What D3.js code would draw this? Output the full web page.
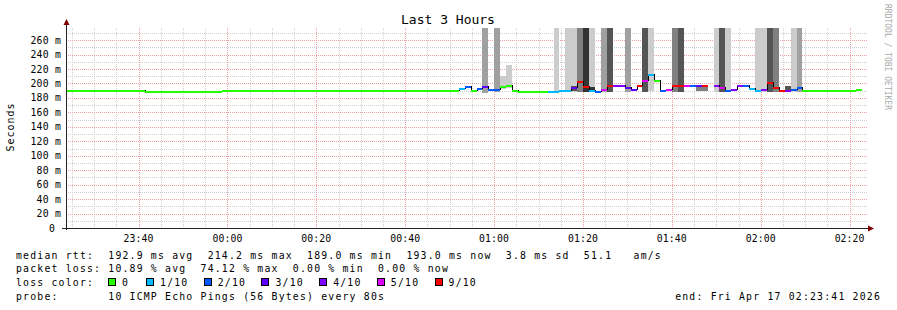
<!DOCTYPE html>
<html><head><meta charset="utf-8">
<script src="https://cdn.jsdelivr.net/npm/d3@7"></script>
<style>
html,body{margin:0;padding:0;background:#fff;}
svg{display:block;}
text{font-family:"DejaVu Sans Mono",monospace;white-space:pre;}
</style></head><body>
<svg id="c" width="897" height="310" xml:space="preserve"></svg>
<script>
// ---------------- DATA ----------------
const titleText = "Last 3 Hours";
const yAxisLabel = "Seconds";
const watermark = "RRDTOOL / TOBI OETIKER";
const startTime = new Date(2026, 3, 16, 23, 23, 41);
const endTime = new Date(2026, 3, 17, 2, 23, 41);
const stepSeconds = 80;
const firstStepOffsetSeconds = -58;
const yTickValues = [0,20,40,60,80,100,120,140,160,180,200,220,240,260];

// median rtt (ms) per 80 s step
const medianMs = [
191,191,191,191,191,191,191,191,191,191,191,191,191,191,
190,
189,189,189,189,189,189,189,189,189,189,189,189,
190.5,190.5,190.5,190.5,190.5,190.5,190.5,190.5,190.5,190.5,190.5,
191.5,191.5,191.5,191.5,191.5,191.5,191.5,191.5,191.5,191.5,191.5,191.5,191.5,191.5,191.5,
191.5,191.5,191.5,191.5,191.5,191.5,191.5,191.5,191.5,191.5,191.5,191.5,191.5,191.5,
194,197,191.5,194,197,192,192,196,198,190.5,
189,189,189,189,189,189,189,190.5,191,195.6,
204,197,191,189.6,192.4,198,198,198,195.6,192.4,
198,204.4,213.6,204.4,190.4,192.4,198,198,198,197.5,
198,198,null,198,195.6,191,191.8,198,198,194,
191,193,201.6,195.6,190.6,190.6,193,195.6,190.6,190.6,
190.6,190.6,190.6,190.6,190.6,190.6,191,193,null
];
// lost pings out of 10 per step
const lossTenths = [
0,0,0,0,0,0,0,0,0,0,0,0,0,0,
0,
0,0,0,0,0,0,0,0,0,0,0,0,
0,0,0,0,0,0,0,0,0,0,0,
0,0,0,0,0,0,0,0,0,0,0,0,0,0,0,
0,0,0,0,0,0,0,0,0,0,0,0,0,0,
1,2,0,2,3,2,2,0,0,0,
0,0,0,0,0,1,1,1,1,3,
9,9,1,2,5,9,4,4,3,3,
9,5,1,0,2,5,9,9,5,2,
3,9,null,4,5,2,4,4,2,1,
1,4,9,9,9,4,2,2,0,0,
0,0,0,0,0,0,0,0,null
];
// smoke (ping spread) per step: step index, low ms, high ms, density level
const smokeStep  = [71,73,74,75,83,85,86,86,87,88,89,89,91,92,95,98,99,103,104,107,108,110,111,112,117,118,119,120,122,123,124];
const smokeLo    = [187,188,192,194,188,188,188,190,188,188,188,190,188,188,188,188,190,188,188,189,189,188,188,188,188,188,188,188,189,188,188];
const smokeHi    = [300,300,211,226,300,300,300,197,300,300,300,195,300,300,300,300,300,300,300,198,198,300,300,300,300,300,300,300,196,300,300];
const smokeLevel = [2,2,1,1,1,1,1,4,3,5,1,5,2,4,2,4,1,3,4,3,3,1,4,1,1,1,4,3,4,1,2];

const lossLevels = [0,1,2,3,4,5,9];
const lossLabels = ["0","1/10","2/10","3/10","4/10","5/10","9/10"];
const lossColors = ["#26ff00","#00b8ff","#0059ff","#5e00ff","#7e00ff","#dd00ff","#ff0000"];

const rttStats  = ["192.9","214.2","189.0","193.0","3.8","51.1"];
const lossStats = ["10.89","74.12","0.00","0.00"];
const probeText = "10 ICMP Echo Pings (56 Bytes) every 80s";
const endText = "end: Fri Apr 17 02:23:41 2026";

// ---------------- LAYOUT ----------------
const svg = d3.select("#c");
const L = 66, R = 866, T = 28, B = 228;
const x = d3.scaleTime().domain([startTime, endTime]).range([L, R]);
const y = d3.scaleLinear().domain([0, 276.8]).range([B, T]);
const smokeColor = d3.scaleOrdinal().domain([1,2,3,4,5]).range(["#cccccc","#a0a0a0","#808080","#555555","#333333"]);
const lossColor = d3.scaleOrdinal().domain(lossLevels).range(lossColors);
const t0 = i => new Date(startTime.getTime() + (firstStepOffsetSeconds + i*stepSeconds)*1000);
const t1 = i => t0(i+1);

svg.append("defs").append("clipPath").attr("id","plot")
  .append("rect").attr("x",L).attr("y",T).attr("width",R-L).attr("height",B-T);

// grid
const grid = svg.append("g").attr("shape-rendering","crispEdges").attr("stroke-dasharray","1,1").attr("stroke-width",1);
const minorY = d3.range(10, 277, 10).filter(v => v % 20 !== 0);
grid.selectAll(".gy").data(minorY).join("line")
  .attr("x1",L).attr("x2",R+2).attr("y1",d=>Math.round(y(d))+0.5).attr("y2",d=>Math.round(y(d))+0.5)
  .attr("stroke","#cfcfcf");
const minorX = d3.timeMinute.every(5).range(startTime, endTime).filter(d => d.getMinutes() % 20 !== 0);
grid.selectAll(".gx").data(minorX).join("line")
  .attr("y1",T).attr("y2",B).attr("x1",d=>Math.round(x(d))+0.5).attr("x2",d=>Math.round(x(d))+0.5)
  .attr("stroke","#cfcfcf");
grid.selectAll(".my").data(yTickValues.filter(v=>v>0)).join("line")
  .attr("x1",L).attr("x2",R+2).attr("y1",d=>Math.round(y(d))+0.5).attr("y2",d=>Math.round(y(d))+0.5)
  .attr("stroke","#f0a0a0");
const majorX = d3.timeMinute.every(20).range(startTime, endTime);
grid.selectAll(".mx").data(majorX).join("line")
  .attr("y1",T).attr("y2",B).attr("x1",d=>Math.round(x(d))+0.5).attr("x2",d=>Math.round(x(d))+0.5)
  .attr("stroke","#f0a0a0");

// smoke
const plot = svg.append("g").attr("clip-path","url(#plot)");
plot.append("g").attr("shape-rendering","crispEdges")
  .selectAll("rect").data(smokeStep.map((s,i)=>({s, lo:smokeLo[i], hi:smokeHi[i], lv:smokeLevel[i]})))
  .join("rect")
  .attr("x", d=>Math.round(x(t0(d.s))))
  .attr("width", d=>Math.round(x(t1(d.s))) - Math.round(x(t0(d.s))))
  .attr("y", d=>Math.round(y(d.hi)))
  .attr("height", d=>Math.round(y(d.lo)) - Math.round(y(d.hi)))
  .attr("fill", d=>smokeColor(d.lv));

// median: black step line then loss-colored segments
const pts = [];
medianMs.forEach((v,i)=>{
  pts.push({t:t0(i), v}); pts.push({t:t1(i), v});
});
plot.append("path")
  .attr("d", d3.line().defined(d=>d.v!=null).x(d=>Math.round(x(d.t))).y(d=>Math.round(y(d.v))+0.5)(pts))
  .attr("fill","none").attr("stroke","#000").attr("stroke-width",1).attr("shape-rendering","crispEdges");
plot.append("g").attr("shape-rendering","crispEdges")
  .selectAll("line").data(medianMs.map((v,i)=>({i,v,l:lossTenths[i]})).filter(d=>d.v!=null))
  .join("line")
  .attr("x1", d=>Math.round(x(t0(d.i)))).attr("x2", d=>Math.round(x(t1(d.i))))
  .attr("y1", d=>Math.round(y(d.v))+0.5).attr("y2", d=>Math.round(y(d.v))+0.5)
  .attr("stroke", d=>lossColor(d.l)).attr("stroke-width",2);

// axes
const ax = svg.append("g").attr("shape-rendering","crispEdges");
ax.append("line").attr("x1",L+0.5).attr("x2",L+0.5).attr("y1",B+2).attr("y2",T-4).attr("stroke","#222");
ax.append("line").attr("x1",L-4).attr("x2",R+4).attr("y1",B+0.5).attr("y2",B+0.5).attr("stroke","#222");
svg.append("path").attr("d",`M${L-2.5},${T-3}L${L+3.5},${T-3}L${L+0.5},${T-9}Z`).attr("fill","#7f0000");
svg.append("path").attr("d",`M${R+2},${B-2.5}L${R+2},${B+3.5}L${R+8},${B+0.5}Z`).attr("fill","#7f0000");

// y tick labels
svg.append("g").selectAll("text").data(yTickValues).join("text")
  .attr("x", d=> d===0 ? 55 : 61).attr("y", d=>y(d)+3.5)
  .attr("text-anchor","end").attr("font-size","9.8px").attr("letter-spacing","0.2").attr("fill","#000")
  .text(d=> d===0 ? "0" : `${d} m`);
// x tick labels
svg.append("g").selectAll("text").data(majorX).join("text")
  .attr("x", d=>x(d)).attr("y", 242).attr("text-anchor","middle")
  .attr("font-size","9.8px").attr("letter-spacing","0.1").attr("fill","#000")
  .text(d3.timeFormat("%H:%M"));

// title & labels
svg.append("text").attr("x",448).attr("y",24).attr("text-anchor","middle")
  .attr("font-size","13px").attr("fill","#000").text(titleText);
svg.append("text").attr("transform","translate(14,127) rotate(-90)").attr("text-anchor","middle")
  .attr("font-size","10px").attr("letter-spacing","1").attr("fill","#000").text(yAxisLabel);
svg.append("text").attr("transform","translate(884.5,4) rotate(90)").attr("text-anchor","start")
  .attr("font-size","8px").attr("fill","#aaaaaa").text(watermark);

// legend
const lg = svg.append("g").attr("font-size","9.8px").attr("letter-spacing","1.2").attr("fill","#000");
const row = (txt, xx, yy, anchor) => lg.append("text").attr("x",xx).attr("y",yy)
  .attr("xml:space","preserve").attr("text-anchor",anchor||"start").text(txt);
const r1 = 258.5, r2 = 272.3, r3 = 286.2, r4 = 300;
row(`median rtt:  ${rttStats[0]} ms avg  ${rttStats[1]} ms max  ${rttStats[2]} ms min  ${rttStats[3]} ms now  ${rttStats[4]} ms sd  ${rttStats[5]}   am/s`, 16, r1);
row(`packet loss: ${lossStats[0]} % avg  ${lossStats[1]} % max  ${lossStats[2]} % min  ${lossStats[3]} % now`, 16, r2);
row("loss color:", 16, r3);
let cur = 108;
lossLabels.forEach((lab,i)=>{
  lg.append("rect").attr("x",cur+0.5).attr("y",r3-7.5).attr("width",7).attr("height",7)
    .attr("fill",lossColors[i]).attr("stroke","#000").attr("stroke-width",1).attr("shape-rendering","crispEdges");
  row(lab, cur+14, r3);
  cur += 31.5 + 6.55*lab.length;
});
row("probe:       " + probeText, 16, r4);
row(endText, 881, r4, "end");
</script>
</body></html>
